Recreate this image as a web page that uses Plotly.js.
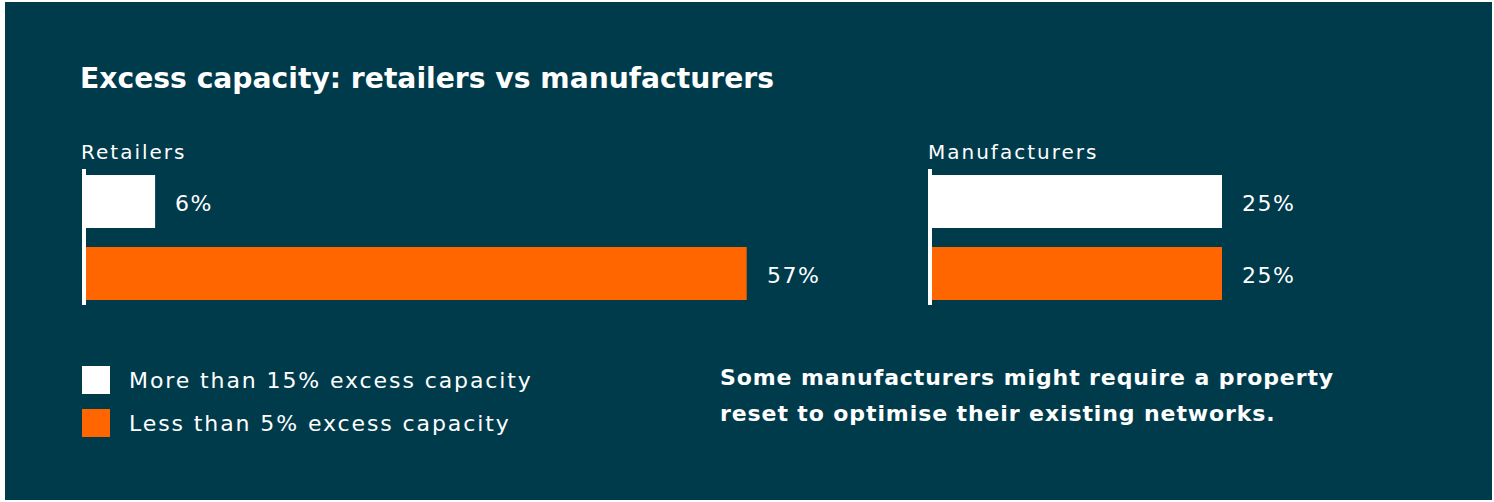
<!DOCTYPE html>
<html>
<head>
<meta charset="utf-8">
<script src="https://cdn.plot.ly/plotly-3.0.1.min.js"></script>
<style>
  html, body { margin: 0; padding: 0; background: #ffffff; }
  #chart { position: absolute; left: 5px; top: 2px; width: 1487px; height: 498px; }
</style>
</head>
<body>
<div id="chart"></div>
<script>
// ---- data ----
const chartTitle = "Excess capacity: retailers vs manufacturers";
const groups = ["Retailers", "Manufacturers"];
const seriesNames = ["More than 15% excess capacity", "Less than 5% excess capacity"];
const retailersValues = [6, 57];
const manufacturersValues = [25, 25];
const noteLines = ["Some manufacturers might require a property", "reset to optimise their existing networks."];

// ---- styling ----
const BG = "#003b4c";
const seriesColors = ["#ffffff", "#ff6600"];
const FONT = "'DejaVu Sans', sans-serif";
const W = 1487, H = 498, OX = 5, OY = 2;
const px = v => (v - OX) / W;          // page x pixel -> paper
const py = v => 1 - (v - OY) / H;      // page y pixel -> paper
const spaced = (t, ls) => '<span style="letter-spacing:' + ls + 'px">' + t + '</span>';

const groupValues = [retailersValues, manufacturersValues];
const axisIds = [["x", "y"], ["x2", "y2"]];

const traces = [];
groupValues.forEach((vals, g) => {
  seriesNames.forEach((name, s) => {
    traces.push({
      type: "bar", orientation: "h",
      x: [vals[s]], y: [name],
      xaxis: axisIds[g][0], yaxis: axisIds[g][1],
      name: name, showlegend: false,
      width: 0.736,
      marker: { color: seriesColors[s], line: { width: 0 } },
      hoverinfo: "skip"
    });
  });
});

const annotations = [];
// value labels
groupValues.forEach((vals, g) => {
  vals.forEach((v, s) => {
    annotations.push({
      xref: axisIds[g][0], yref: axisIds[g][1],
      x: v, y: seriesNames[s], xanchor: "left", yanchor: "middle",
      xshift: 18, yshift: -2, showarrow: false, text: spaced(v + "%", 1.5),
      font: { family: FONT, size: 22, color: "#ffffff" }
    });
  });
});
// group titles
const groupTitleX = [81, 928];
groups.forEach((gname, g) => {
  annotations.push({
    xref: "paper", yref: "paper", x: px(groupTitleX[g] - 2), y: py(152),
    xanchor: "left", yanchor: "middle", showarrow: false, text: spaced(gname, 2),
    font: { family: FONT, size: 20, color: "#ffffff" }
  });
});
// custom legend
const legendRows = [380, 423];
const shapes = [];
seriesNames.forEach((name, s) => {
  shapes.push({
    type: "rect", xref: "paper", yref: "paper",
    x0: px(82), x1: px(110), y0: py(legendRows[s] - 14), y1: py(legendRows[s] + 14),
    fillcolor: seriesColors[s], line: { width: 0 }
  });
  annotations.push({
    xref: "paper", yref: "paper", x: px(127), y: py(legendRows[s]),
    xanchor: "left", yanchor: "middle", showarrow: false, text: spaced(name, 1.9),
    font: { family: FONT, size: 22, color: "#ffffff" }
  });
});
// note
const noteRows = [377, 413];
noteLines.forEach((line, i) => {
  annotations.push({
    xref: "paper", yref: "paper", x: px(718), y: py(noteRows[i]),
    xanchor: "left", yanchor: "middle", showarrow: false, text: spaced(line, 0.9),
    font: { family: FONT, size: 22, color: "#ffffff", weight: 600 }
  });
});

const yCommon = {
  type: "category", range: [1.4375, -0.451], showline: true, linewidth: 4,
  linecolor: "#ffffff", showticklabels: false, ticks: "", showgrid: false,
  zeroline: false, fixedrange: true
};
const xCommon = {
  showline: false, showticklabels: false, ticks: "", showgrid: false,
  zeroline: false, fixedrange: true
};

const layout = {
  width: W, height: H,
  margin: { l: 0, r: 0, t: 0, b: 0, pad: 0 },
  paper_bgcolor: BG, plot_bgcolor: "rgba(0,0,0,0)",
  barmode: "overlay",
  title: {
    text: "<b>" + chartTitle + "</b>",
    x: px(80), xanchor: "left", y: py(78), yanchor: "middle",
    font: { family: FONT, size: 28.2, color: "#ffffff" }
  },
  xaxis: Object.assign({}, xCommon, { domain: [px(85.5), px(85.5 + 60 * 11.6)], range: [0, 60] }),
  yaxis: Object.assign({}, yCommon, { domain: [py(305), py(169)], anchor: "x" }),
  xaxis2: Object.assign({}, xCommon, { domain: [px(932), px(932 + 40 * 11.6)], range: [0, 40] }),
  yaxis2: Object.assign({}, yCommon, { domain: [py(305), py(169)], anchor: "x2" }),
  annotations: annotations,
  shapes: shapes,
  showlegend: false
};

Plotly.newPlot("chart", traces, layout, { staticPlot: true, displayModeBar: false });
</script>
</body>
</html>
